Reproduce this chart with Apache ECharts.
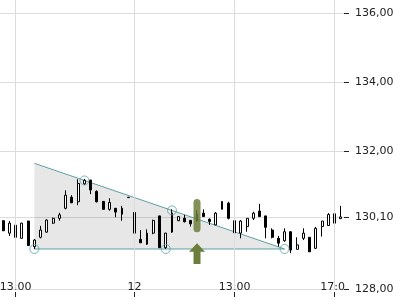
<!DOCTYPE html>
<html>
<head>
<meta charset="utf-8">
<script src="https://cdn.jsdelivr.net/npm/echarts@6/dist/echarts.min.js"></script>
<style>html,body{margin:0;padding:0;background:#fff}#c{width:400px;height:300px}</style>
</head>
<body>
<div id="c"></div>
<script>
// 15-minute candles: day 11 from 12:30 to 17:30, day 12 from 09:00 to 17:15
const categories = [
  '12:30','12:45','13:00','13:15','13:30','13:45','14:00','14:15','14:30','14:45',
  '15:00','15:15','15:30','15:45','16:00','16:15','16:30','16:45','17:00','17:15','17:30',
  '09:00','09:15','09:30','09:45','10:00','10:15','10:30','10:45','11:00','11:15','11:30',
  '11:45','12:00','12:15','12:30','12:45','13:00','13:15','13:30','13:45','14:00','14:15',
  '14:30','14:45','15:00','15:15','15:30','15:45','16:00','16:15','16:30','16:45','17:00','17:15'
];
// x-axis labels shown at these category indices
const xLabelIndex = [2, 21, 37, 53];
const xLabelText  = ['13:00', '12', '13:00', '17:0'];
// [open, close, low, high]
const ohlc = [
  [129.99,129.70,129.69,130.00],[129.63,129.92,129.55,129.98],[129.86,129.51,129.48,129.92],
  [129.48,129.92,129.47,129.93],[129.98,129.27,129.26,129.99],[129.24,129.43,129.17,129.46],
  [129.51,129.72,129.48,129.84],[129.66,130.01,129.64,130.03],[129.92,130.06,129.90,130.08],
  [130.06,130.16,129.99,130.22],[130.35,130.73,130.32,130.87],[130.67,130.51,130.50,130.73],
  [130.54,131.07,130.44,131.19],[131.06,131.16,131.03,131.20],[131.17,130.88,130.76,131.17],
  [130.84,130.54,130.52,130.87],[130.55,130.32,130.32,130.55],[130.32,130.52,130.28,130.64],
  [130.35,130.24,130.09,130.35],[130.35,130.18,129.99,130.42],[130.67,130.66,130.66,130.67],
  [130.23,129.63,129.59,130.25],[129.45,129.35,129.35,129.72],[129.31,129.63,129.29,129.74],
  [129.63,130.00,129.60,130.02],[130.13,129.21,129.21,130.13],[129.21,129.63,129.17,129.64],
  [129.66,130.21,129.64,130.32],[129.99,130.11,129.98,130.12],[130.06,129.96,129.94,130.16],
  [130.00,129.90,129.82,130.00],[129.99,130.19,129.96,130.30],[130.21,130.11,130.11,130.32],
  [130.03,129.97,129.87,130.06],[129.87,130.21,129.87,130.24],[130.32,130.55,130.32,130.55],
  [130.50,130.06,130.03,130.54],[129.99,129.64,129.63,130.01],[129.63,129.98,129.48,130.01],
  [129.82,130.06,129.67,130.06],[130.06,130.21,130.01,130.25],[130.27,130.11,130.11,130.48],
  [130.13,129.80,129.48,130.13],[129.72,129.51,129.48,129.77],[129.48,129.34,129.24,129.55],
  [129.41,129.67,129.38,129.77],[129.67,129.14,129.05,129.69],[129.16,129.29,129.16,129.51],
  [129.48,129.63,129.43,129.77],[129.51,129.09,129.09,129.51],[129.19,129.77,129.17,129.81],
  [129.82,129.98,129.53,129.98],[129.85,130.17,129.84,130.21],[130.19,129.92,129.72,130.24],
  [130.05,130.10,130.05,130.42]
];
// descending triangle pattern: [index, value]
const resistance = [[5, 131.654], [45, 129.171]];
const support    = [[5, 129.171], [45, 129.171]];
const touchPoints = [[5, 129.171], [13, 131.156], [26, 129.171], [27, 130.289], [45, 129.171]];
// signal marker: bar [index, top, bottom], arrow [index, tip, bottom]
const signalBar   = [[31, 130.62, 129.655]];
const signalArrow = [[31, 129.336, 128.736]];
// y ticks
const yTicks = [128, 130.1, 132, 134, 136];

const candleData = ohlc.map(d => [d[0], d[1], d[2], d[3]]);
const fmt = v => v.toFixed(2).replace('.', ',');
const font = 'DejaVu Sans';
const green = '#6b7e3b';
const teal = '#5e9fa6';

const chart = echarts.init(document.getElementById('c'), null, {renderer: 'canvas'});
chart.setOption({
  animation: false,
  backgroundColor: '#fff',
  grid: {left: 0, right: 56, top: 0, bottom: 10.6, containLabel: false, outerBoundsMode: 'none'},
  xAxis: {
    type: 'category',
    data: categories,
    boundaryGap: true,
    offset: 2.6,
    axisLine: {show: false},
    axisTick: {show: true, alignWithLabel: true, length: 5, lineStyle: {color: '#222'},
      interval: (i) => xLabelIndex.includes(i)},
    axisLabel: {
      interval: (i) => xLabelIndex.includes(i),
      margin: -10,
      fontFamily: font, fontSize: 11, color: '#222',
      formatter: (v, i) => {
        const j = xLabelIndex.indexOf(i);
        if (j < 0) return '';
        if (i === 53) return '{c|' + xLabelText[j] + '}';
        return xLabelText[j];
      },
      rich: {c: {fontFamily: font, fontSize: 11, color: '#222', padding: [0, 4, 0, 0]}}
    },
    splitLine: {show: false}
  },
  yAxis: {
    type: 'value',
    position: 'right',
    min: 128, max: 136.386, interval: 2,
    axisLine: {show: false},
    axisTick: {show: true, length: 5, lineStyle: {color: '#222'}, customValues: yTicks},
    axisLabel: {margin: 11, fontFamily: font, fontSize: 11, color: '#222',
      customValues: yTicks, formatter: v => fmt(v)},
    splitLine: {show: true, lineStyle: {color: '#dcdcdc', width: 1}}
  },
  series: [
    {
      type: 'line', data: resistance, z: 1, symbol: 'none', silent: true,
      lineStyle: {color: teal, width: 1},
      areaStyle: {color: 'rgba(0,0,0,0.135)', origin: 129.171},
      markLine: {
        silent: true, symbol: ['none', 'none'], label: {show: false},
        lineStyle: {color: '#dcdcdc', width: 1, type: 'solid'},
        data: xLabelIndex.map(i => ({xAxis: i}))
      }
    },
    {
      type: 'line', data: support, z: 1, symbol: 'none', silent: true,
      lineStyle: {color: teal, width: 1}
    },
    {
      type: 'candlestick', data: candleData, z: 3, barWidth: 2.4,
      itemStyle: {color: '#ffffff', color0: '#000000', borderColor: '#000000', borderColor0: '#000000', borderWidth: 1}
    },
    {
      type: 'scatter', data: touchPoints, z: 4, symbol: 'circle', symbolSize: 9, silent: true,
      itemStyle: {color: 'rgba(0,0,0,0)', borderColor: teal, borderWidth: 1}
    },
    {
      type: 'custom', z: 5, silent: true, data: signalBar,
      renderItem: (params, api) => {
        const top = api.coord([api.value(0), api.value(1)]);
        const bot = api.coord([api.value(0), api.value(2)]);
        const w = 7;
        return {type: 'rect', shape: {x: top[0] - w / 2, y: top[1], width: w, height: bot[1] - top[1], r: 3.5},
          style: {fill: green, opacity: 0.85}};
      }
    },
    {
      type: 'custom', z: 5, silent: true, data: signalArrow,
      renderItem: (params, api) => {
        const tip = api.coord([api.value(0), api.value(1)]);
        const bot = api.coord([api.value(0), api.value(2)]);
        const x = tip[0], hw = 8, sw = 3.5, hh = 8.5;
        return {type: 'polygon', shape: {points: [
          [x, tip[1]], [x + hw, tip[1] + hh], [x + sw, tip[1] + hh], [x + sw, bot[1]],
          [x - sw, bot[1]], [x - sw, tip[1] + hh], [x - hw, tip[1] + hh]]},
          style: {fill: green}};
      }
    }
  ]
});
</script>
</body>
</html>
